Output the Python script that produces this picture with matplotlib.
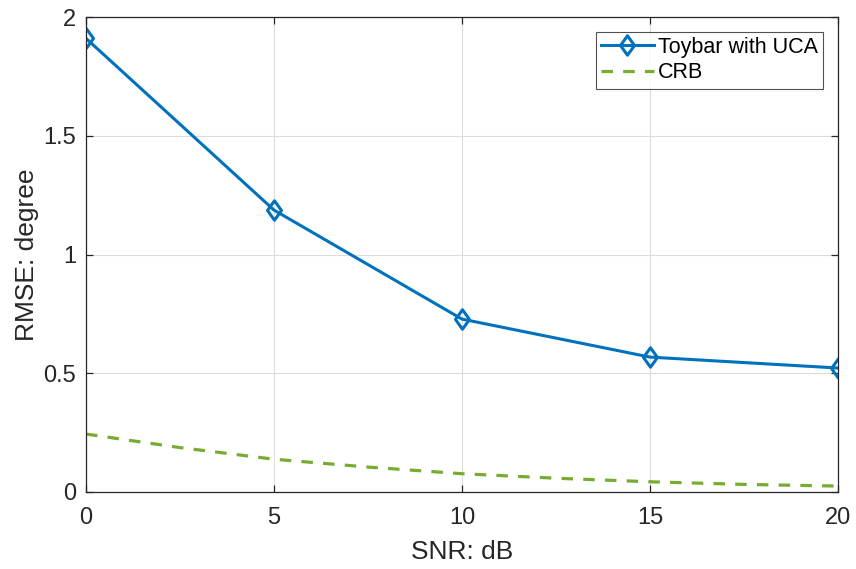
import matplotlib
matplotlib.use("Agg")
import matplotlib.pyplot as plt
from matplotlib.path import Path

snr = [0, 5, 10, 15, 20]
rmse_toybar = [1.91, 1.187, 0.728, 0.568, 0.522]
crb_snr = [0, 2.5, 5, 7.5, 10, 12.5, 15, 17.5, 20]
crb = [0.244, 0.187, 0.138, 0.105, 0.077, 0.058, 0.043, 0.032, 0.025]

plt.rcParams['font.family'] = ['Liberation Sans', 'DejaVu Sans']

diamond = Path([(0, 1), (0.72, 0), (0, -1), (-0.72, 0), (0, 1)],
               [Path.MOVETO, Path.LINETO, Path.LINETO, Path.LINETO, Path.CLOSEPOLY])

fig = plt.figure(figsize=(8.56, 5.69), dpi=100)
ax = fig.add_axes([86/856, 77/569, (838-86)/856, (492-17)/569])

ax.plot(snr, rmse_toybar, color='#0072BD', linewidth=2.2, marker=diamond,
        markersize=14, markerfacecolor='none', markeredgewidth=2.2,
        label='Toybar with UCA')
ax.plot(crb_snr, crb, color='#77AC30', linewidth=2.3, linestyle=(0, (3.6, 3.2)),
        label='CRB')

ax.set_xlim(0, 20)
ax.set_ylim(0, 2)
ax.set_xticks([0, 5, 10, 15, 20])
ax.set_yticks([0, 0.5, 1, 1.5, 2])
ax.set_yticklabels(['0', '0.5', '1', '1.5', '2'])
ax.grid(True, color='#dcdcdc', linewidth=0.8)
ax.set_axisbelow(True)
for s in ax.spines.values():
    s.set_color('#262626')
    s.set_linewidth(0.9)
ax.tick_params(direction='in', labelsize=17, colors='#262626', length=5, width=0.9,
               top=True, right=True)
ax.tick_params(axis='x', pad=10.5)
ax.tick_params(axis='y', pad=7)
ax.set_xlabel('SNR: dB', fontsize=19, color='#262626', labelpad=8)
ax.set_ylabel('RMSE: degree', fontsize=19, color='#262626', labelpad=3.5)

leg = ax.legend(loc='upper right', fontsize=15.5, frameon=True, fancybox=False,
                edgecolor='#262626', borderpad=0.25, handlelength=2.45,
                handletextpad=0.2, labelspacing=0.2, borderaxespad=0.68)
leg.get_frame().set_linewidth(0.8)

fig.savefig('out.png', dpi=100)
